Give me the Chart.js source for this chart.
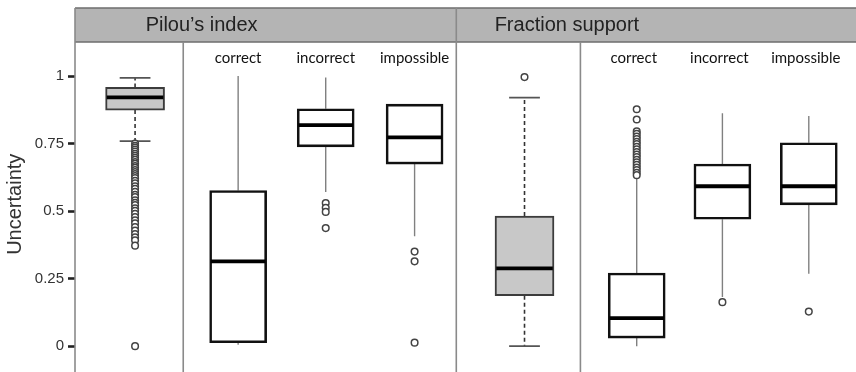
<!DOCTYPE html>
<html>
<head>
<meta charset="utf-8">
<script src="https://cdn.jsdelivr.net/npm/chart.js@4/dist/chart.umd.min.js"></script>
<style>
  html, body { margin: 0; padding: 0; background: #fff; }
  #wrap { width: 856px; height: 372px; position: relative; }
</style>
</head>
<body>
<div id="wrap"><canvas id="c" width="856" height="372"></canvas></div>
<script>
// Panel titles and the category of each box (the first box of a panel is the pooled set)
const panelTitles = ['Pilou\u2019s index', 'Fraction support'];
const categories = ['', 'correct', 'incorrect', 'impossible'];
const yTicks = [0, 0.25, 0.5, 0.75, 1];

// Pilou's index: five-number summaries
const pilouLow    = [0.759, 0.005, 0.571, 0.407];
const pilouQ1     = [0.874, 0.013, 0.738, 0.674];
const pilouMedian = [0.921, 0.314, 0.818, 0.773];
const pilouQ3     = [0.958, 0.576, 0.879, 0.896];
const pilouHigh   = [0.993, 1.000, 0.995, 0.896];
const pilouOutliers = [
  [0.750, 0.742, 0.735, 0.728, 0.720, 0.712, 0.705, 0.697, 0.690, 0.682, 0.675, 0.667,
   0.660, 0.652, 0.645, 0.637, 0.630, 0.622, 0.612, 0.603, 0.592, 0.583, 0.571, 0.560,
   0.552, 0.540, 0.531, 0.522, 0.510, 0.501, 0.490, 0.478, 0.466, 0.455, 0.441, 0.428,
   0.415, 0.403, 0.392, 0.372, 0.000],
  [],
  [0.530, 0.512, 0.497, 0.437],
  [0.350, 0.314, 0.013]
];

// Fraction support: five-number summaries
const fracLow    = [0.000, 0.000, 0.182, 0.268];
const fracQ1     = [0.187, 0.030, 0.470, 0.523];
const fracMedian = [0.288, 0.104, 0.592, 0.592];
const fracQ3     = [0.482, 0.271, 0.674, 0.753];
const fracHigh   = [0.920, 0.627, 0.862, 0.852];
const fracOutliers = [
  [0.996],
  [0.877, 0.839, 0.795, 0.786, 0.776, 0.767, 0.757, 0.748, 0.738, 0.729, 0.719, 0.709,
   0.700, 0.690, 0.681, 0.671, 0.661, 0.652, 0.642, 0.633],
  [0.163],
  [0.128]
];

// Horizontal layout (x axis units), box widths and cap widths
const xPos = [60.5, 164.3, 252.5, 342, 452.7, 565.7, 652, 739];
const dividers = [109, 384, 509];          // panel boundary at 384, inner dividers
const titleX = [127.5, 495.4];
const grayWidth = 59, whiteWidth = 57, capWidth = 31;

const low = pilouLow.concat(fracLow);
const q1 = pilouQ1.concat(fracQ1);
const med = pilouMedian.concat(fracMedian);
const q3 = pilouQ3.concat(fracQ3);
const high = pilouHigh.concat(fracHigh);
const outliers = pilouOutliers.concat(fracOutliers);
const isPooled = i => i % 4 === 0;
const idx = xPos.map((_, i) => i);
const GAP = { x: 0, y: null };

function segs(list, fn) {
  const out = [];
  list.forEach(i => fn(i).forEach(s => { out.push(s[0], s[1], GAP); }));
  return out;
}
const whisk = i => {
  const s = [];
  if (high[i] > q3[i]) s.push([{ x: xPos[i], y: q3[i] }, { x: xPos[i], y: high[i] }]);
  if (low[i] < q1[i]) s.push([{ x: xPos[i], y: q1[i] }, { x: xPos[i], y: low[i] }]);
  return s;
};

const pooled = idx.filter(isPooled), split = idx.filter(i => !isPooled(i));

const datasets = [
  { type: 'line', data: segs(pooled, whisk), borderColor: '#333', borderWidth: 1.6,
    borderDash: [4, 3], pointRadius: 0, spanGaps: false, order: 6 },
  { type: 'line', data: segs(split, whisk), borderColor: '#808080', borderWidth: 1.4,
    pointRadius: 0, spanGaps: false, order: 6 },
  { type: 'line', data: segs(pooled, i => [
      [{ x: xPos[i] - capWidth / 2, y: high[i] }, { x: xPos[i] + capWidth / 2, y: high[i] }],
      [{ x: xPos[i] - capWidth / 2, y: low[i] }, { x: xPos[i] + capWidth / 2, y: low[i] }]]),
    borderColor: '#555', borderWidth: 1.8, pointRadius: 0, spanGaps: false, order: 5 },
  { type: 'bar', data: pooled.map(i => ({ x: xPos[i], y: [q1[i], q3[i]] })),
    backgroundColor: '#c8c8c8', borderColor: '#3c3c3c', borderWidth: 2, borderSkipped: false,
    barThickness: grayWidth, grouped: false, order: 4 },
  { type: 'bar', data: split.map(i => ({ x: xPos[i], y: [q1[i], q3[i]] })),
    backgroundColor: '#ffffff', borderColor: '#111', borderWidth: 2.6, borderSkipped: false,
    barThickness: whiteWidth, grouped: false, order: 4 },
  { type: 'line', data: segs(idx, i => {
      const h = (isPooled(i) ? grayWidth : whiteWidth) / 2 - 1;
      return [[{ x: xPos[i] - h, y: med[i] }, { x: xPos[i] + h, y: med[i] }]];
    }),
    borderColor: '#000', borderWidth: 3.8, borderCapStyle: 'butt', pointRadius: 0,
    spanGaps: false, order: 2 },
  { type: 'scatter', data: [].concat(...idx.map(i => outliers[i].map(v => ({ x: xPos[i], y: v })))),
    pointStyle: 'circle', pointRadius: 3.3, pointBorderWidth: 1.5,
    pointBorderColor: '#444', pointBackgroundColor: '#fff', order: 1 }
];

// Header band, panel frames, and the category labels
const framePlugin = {
  id: 'frames',
  beforeDatasetsDraw(chart) {
    const { ctx, chartArea, scales } = chart;
    const x = scales.x;
    const top = 8, bandBottom = chartArea.top;
    const right = chart.width;
    ctx.save();
    ctx.fillStyle = '#b4b4b4';
    ctx.fillRect(chartArea.left, top, right - chartArea.left, bandBottom - top);
    ctx.strokeStyle = '#6e6e6e';
    ctx.lineWidth = 1.6;
    ctx.beginPath();
    ctx.moveTo(chartArea.left, top); ctx.lineTo(right, top);
    ctx.moveTo(chartArea.left, bandBottom); ctx.lineTo(right, bandBottom);
    ctx.stroke();
    ctx.strokeStyle = '#8a8a8a';
    ctx.lineWidth = 1.6;
    ctx.beginPath();
    ctx.moveTo(chartArea.left, top); ctx.lineTo(chartArea.left, chart.height);
    const p = x.getPixelForValue(dividers[1]);
    ctx.moveTo(p, top); ctx.lineTo(p, chart.height);
    [dividers[0], dividers[2]].forEach(d => {
      const q = x.getPixelForValue(d);
      ctx.moveTo(q, bandBottom); ctx.lineTo(q, chart.height);
    });
    ctx.stroke();

    ctx.fillStyle = '#222';
    ctx.font = '20px "Liberation Sans", Arial, sans-serif';
    ctx.textAlign = 'center';
    ctx.textBaseline = 'middle';
    panelTitles.forEach((t, k) => ctx.fillText(t, x.getPixelForValue(titleX[k]), 25));

    ctx.font = '15px Lato, sans-serif';
    ctx.fillStyle = '#111';
    idx.forEach(i => {
      const lab = categories[i % 4];
      if (lab) ctx.fillText(lab, x.getPixelForValue(xPos[i]) - (i > 3 ? 3 : 0), 58);
    });
    ctx.restore();
  }
};

new Chart(document.getElementById('c'), {
  type: 'bar',
  data: { datasets },
  plugins: [framePlugin],
  options: {
    responsive: false,
    animation: false,
    layout: { padding: { top: 42, left: 0, right: 0, bottom: 0 } },
    plugins: { legend: { display: false }, tooltip: { enabled: false } },
    scales: {
      x: { type: 'linear', min: 0, max: 781, display: false, offset: false,
           afterFit(scale) { scale.paddingLeft = 0; scale.paddingRight = 0; } },
      y: {
        type: 'linear', min: -0.0753, max: 1.126,
        afterFit(scale) {
          scale.width = 75;
          scale.paddingTop = 0;
          scale.paddingBottom = 0;
        },
        afterBuildTicks(scale) { scale.ticks = yTicks.map(v => ({ value: v })); },
        border: { display: false },
        grid: { drawOnChartArea: false, drawTicks: true, tickLength: 7,
                tickColor: '#222', tickWidth: 2.6 },
        ticks: { padding: 4, color: '#333', callback: v => String(v),
                 font: { size: 15, family: '"Liberation Sans", Arial, sans-serif' } },
        title: { display: true, text: 'Uncertainty', color: '#333',
                 padding: { top: 3, bottom: 0 },
                 font: { size: 20, family: '"Liberation Sans", Arial, sans-serif' } }
      }
    }
  }
});
</script>
</body>
</html>
